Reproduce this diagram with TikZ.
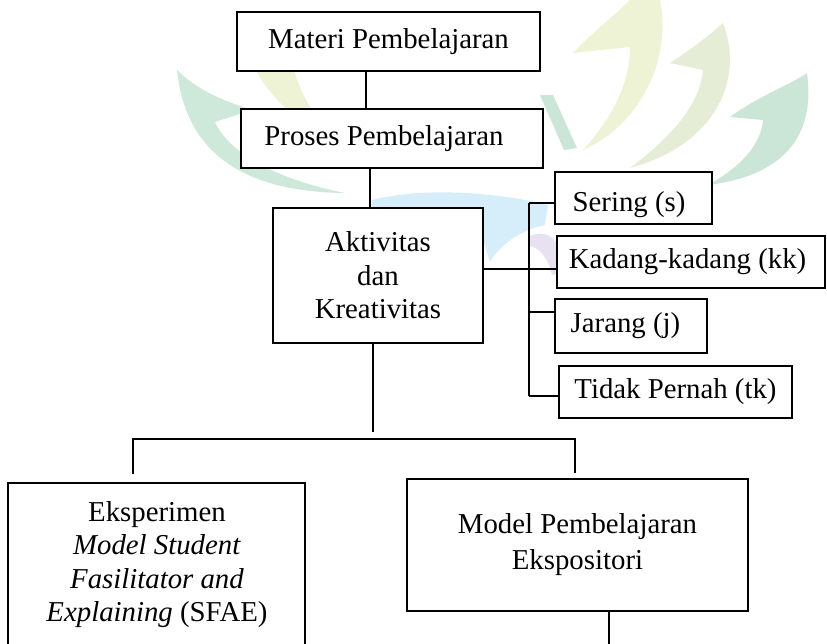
\documentclass[tikz,border=0pt]{standalone}
\usepackage{fontspec}
\setmainfont{Liberation Serif}
\definecolor{wmgreen}{RGB}{206,232,218}
\definecolor{wmgreenb}{RGB}{203,229,214}
\definecolor{wmmid}{RGB}{229,237,214}
\definecolor{wmyellow}{RGB}{238,243,214}
\definecolor{wmblue}{RGB}{214,238,250}
\definecolor{wmpurple}{RGB}{231,225,242}
\begin{document}
\begin{tikzpicture}[x=0.5pt,y=-0.5pt,
  box/.style={draw, line width=1.4pt, inner sep=0pt, fill=white, align=center,
    font=\fontsize{14.4}{16.7}\selectfont},
  sz/.style 2 args={minimum width=#1*0.5pt, minimum height=#2*0.5pt},
  txt/.style={inner sep=0pt, align=center, font=\fontsize{14.4}{16.7}\selectfont},
  conn/.style={line width=1.4pt}]
\useasboundingbox (0,0) rectangle (827,644);
\clip (0,0) rectangle (827,644);
% faint watermark
\fill[wmgreen] (177,70) .. controls (185,150) and (240,192) .. (345,193)
  .. controls (280,180) and (230,155) .. (215,122) -- (252,110)
  .. controls (220,100) and (195,88) .. cycle;
\fill[wmyellow] (240,35) .. controls (255,80) and (285,120) .. (335,138)
  .. controls (305,110) and (290,70) .. (285,30) -- cycle;
\fill[wmgreenb] (540,95) -- (553,95) -- (577,148) -- (564,150) -- cycle;
\fill[wmyellow] (660,0) .. controls (672,60) and (640,125) .. (583,150)
  .. controls (615,115) and (630,80) .. (630,47) -- (573,53)
  .. controls (595,30) and (615,15) .. (630,0) -- cycle;
\fill[wmmid] (723,23) .. controls (745,80) and (715,145) .. (630,168)
  .. controls (680,130) and (700,100) .. (703,70) -- (670,63)
  .. controls (690,50) and (710,35) .. cycle;
\fill[wmgreenb] (807,73) .. controls (815,130) and (790,175) .. (708,185)
  .. controls (745,165) and (762,140) .. (763,120) -- (730,117)
  .. controls (760,95) and (790,85) .. cycle;
\fill[wmblue] (372,200) .. controls (430,185) and (510,195) .. (548,205)
  -- (545,225) .. controls (520,230) and (500,245) .. (490,262)
  -- (483,240) .. controls (450,215) and (410,205) .. (372,212) -- cycle;
\fill[wmpurple] (530,236) .. controls (548,228) and (562,240) .. (566,272)
  -- (552,275) .. controls (548,258) and (540,248) .. (530,246) -- cycle;
% boxes
\node[box, sz={303}{59}] (materi) at (388.5,41.5) {Materi Pembelajaran};
\node[box, sz={302}{59}] (proses) at (392,138.5) {Proses Pembelajaran\hspace{8pt}};
\node[box, sz={210}{135}] (aktiv) at (378,275.5) {Aktivitas\\dan\\Kreativitas};
\node[box, sz={157}{52}] (sering) at (633.5,198) {\raisebox{-3.5pt}[\height][\depth]{Sering (s)}\hspace{4.5pt}};
\node[box, sz={268}{52}] (kadang) at (691,262) {Kadang-kadang (kk)\hspace{3.5pt}};
\node[box, sz={152}{54}] (jarang) at (631,326) {Jarang (j)\hspace{5.5pt}};
\node[box, sz={233}{52}] (tidak) at (675.5,392) {Tidak Pernah (tk)};
\node[box, sz={297}{180}] (sfae) at (156.5,573) {};
\node[txt, anchor=north] (sfaetxt) at (157,501) {Eksperimen\\\textit{Model Student}\\\textit{Fasilitator and}\\\textit{Explaining} (SFAE)};
\node[box, sz={341}{132}, font=\fontsize{14.4}{18}\selectfont] (expo) at (577.5,545) {Model Pembelajaran\\Ekspositori};
% coordinates
\coordinate (c1) at (366,0);
\coordinate (c2) at (370,0);
\coordinate (adown) at (373,432);
\coordinate (s1) at (529,203);
\coordinate (s2) at (529,269);
\coordinate (s3) at (529,312);
\coordinate (s4) at (529,396);
\coordinate (bl) at (133,474);
\coordinate (bm) at (373,439);
\coordinate (br) at (575,473);
\coordinate (eb) at (609,660);
% connectors
\draw[conn] (materi.south -| c1) -- (proses.north -| c1);
\draw[conn] (proses.south -| c2) -- (aktiv.north -| c2);
\draw[conn] (aktiv.south -| adown) -- (adown);
\draw[conn] (aktiv.east |- s2) -- (s2);
\draw[conn] (s1) -- (s4);
\draw[conn] (s1) -- (sering.west |- s1);
\draw[conn] (s2) -- (kadang.west |- s2);
\draw[conn] (s3) -- (jarang.west |- s3);
\draw[conn] (s4) -- (tidak.west |- s4);
\draw[conn] (bl) |- (bm) -| (br);
\draw[conn] (expo.south -| eb) -- (eb);
\end{tikzpicture}
\end{document}
